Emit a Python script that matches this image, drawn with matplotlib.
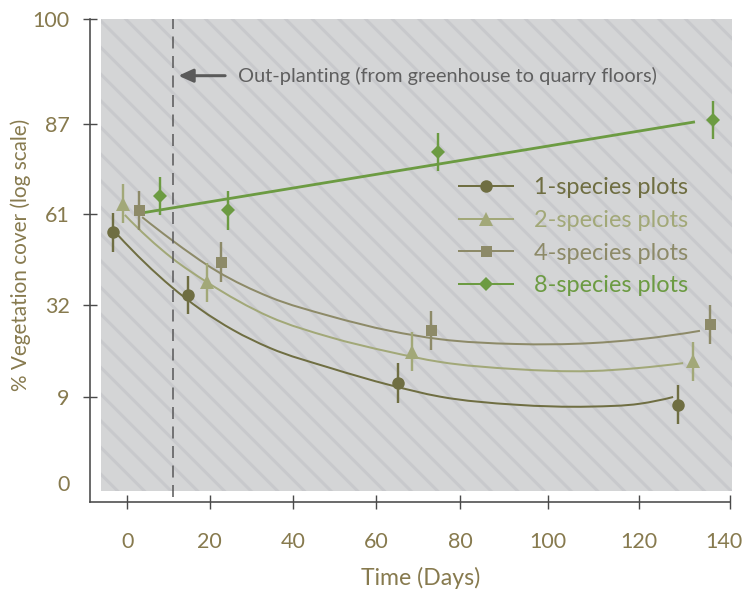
import numpy as np
import matplotlib
matplotlib.use("Agg")
import matplotlib.pyplot as plt
from matplotlib.patches import Rectangle, PathPatch
from matplotlib.path import Path
from matplotlib.lines import Line2D
from matplotlib.transforms import ScaledTranslation

DPI = 80
PT = 72 / DPI  # points per pixel

plt.rcParams['font.family'] = ['Lato', 'DejaVu Sans']
plt.rcParams['hatch.linewidth'] = 3.0 * PT
plt.rcParams['hatch.color'] = '#c7c8cb'

# ---------------- data ----------------
series_labels = ['1-species plots', '2-species plots', '4-species plots', '8-species plots']

days_1 = [-3.4, 14.8, 65.3, 128.5]
cover_1 = [55.3, 35.3, 12.6, 8.2]
low_1 = [49.1, 29.8, 8.4, 6.2]
high_1 = [61.5, 41.4, 17.5, 12.0]

days_2 = [-1.0, 19.3, 68.6, 131.9]
cover_2 = [64.0, 39.4, 20.4, 18.0]
low_2 = [58.1, 33.1, 15.5, 13.1]
high_2 = [69.7, 45.6, 25.2, 22.9]

days_4 = [2.9, 22.6, 73.1, 135.5]
cover_4 = [62.1, 45.8, 25.7, 27.2]
low_4 = [56.0, 39.5, 20.8, 22.3]
high_4 = [67.7, 52.1, 30.6, 32.1]

days_8 = [7.9, 24.4, 74.8, 136.2]
cover_8 = [66.3, 62.1, 79.0, 87.5]
low_8 = [60.8, 56.0, 73.5, 82.7]
high_8 = [71.9, 67.7, 84.5, 89.9]

# fitted trend curves
fit_days_1 = [-2.3, 10.8, 17.6, 25.6, 34.4, 48.9, 63.3, 75.2, 92.5, 109.2, 120.2, 127.5]
fit_cover_1 = [54.4, 37.8, 31.1, 25.8, 21.3, 16.3, 12.0, 9.1, 8.2, 8.0, 8.3, 9.0]
fit_days_2 = [-0.6, 10.8, 19.3, 34.4, 48.9, 63.3, 75.2, 92.5, 109.2, 120.2, 129.7]
fit_cover_2 = [60.8, 47.1, 39.4, 29.1, 24.0, 20.3, 17.8, 16.0, 15.5, 16.3, 17.5]
fit_days_4 = [3.6, 10.8, 21.7, 34.4, 48.9, 63.3, 75.2, 92.5, 109.2, 120.2, 133.4]
fit_cover_4 = [60.1, 52.8, 42.9, 34.6, 29.3, 25.6, 23.5, 22.3, 22.5, 23.5, 25.6]
fit_days_8 = [3.6, 132.3]
fit_cover_8 = [61.4, 87.3]

x_ticks = [0, 20, 40, 60, 80, 100, 120, 140]
y_ticks = [0, 9, 32, 61, 87, 100]
outplant_day = 11
annotation_text = 'Out-planting (from greenhouse to quarry floors)'

# ---------------- axis calibration (non-uniform axes of the original) ----------------
X_CAL_DAYS = np.array([-20, 0, 20, 40, 60, 80, 100, 120, 140, 160], float)
X_CAL_POS = np.array([-82.4, 0, 82.4, 166, 248.7, 332.7, 421, 511.7, 602.7, 693.7])
Y_CAL_VAL = np.array([-20, 0, 9, 32, 61, 87, 100, 120], float)
Y_CAL_POS = np.array([-191.8, 0, 86.3, 178, 269, 359, 464.3, 626.3])

def xf(v):
    return np.interp(np.asarray(v, float), X_CAL_DAYS, X_CAL_POS)

def xi(p):
    return np.interp(np.asarray(p, float), X_CAL_POS, X_CAL_DAYS)

def yf(v):
    return np.interp(np.asarray(v, float), Y_CAL_VAL, Y_CAL_POS)

def yi(p):
    return np.interp(np.asarray(p, float), Y_CAL_POS, Y_CAL_VAL)


def smooth_path(days, cover):
    """Smoothed line through the given points (cubic Hermite segments drawn as
    Bezier curves), built in the axis' scaled space and drawn through the axis
    transform."""
    x, y = xf(days), yf(cover)
    h = np.diff(x)
    d = np.diff(y) / h
    n = len(x)
    m = np.empty(n)
    m[1:-1] = (h[1:] * d[:-1] + h[:-1] * d[1:]) / (h[:-1] + h[1:])
    m[0] = ((2 * h[0] + h[1]) * d[0] - h[0] * d[1]) / (h[0] + h[1])
    m[-1] = ((2 * h[-1] + h[-2]) * d[-1] - h[-1] * d[-2]) / (h[-1] + h[-2])
    verts = [(x[0], y[0])]
    codes = [Path.MOVETO]
    for k in range(n - 1):
        t = h[k] / 3
        verts += [(x[k] + t, y[k] + m[k] * t),
                  (x[k + 1] - t, y[k + 1] - m[k + 1] * t),
                  (x[k + 1], y[k + 1])]
        codes += [Path.CURVE4] * 3
    verts = np.array(verts)
    return Path(np.column_stack([xi(verts[:, 0]), yi(verts[:, 1])]), codes)


# ---------------- styles ----------------
colors = ['#6f6e42', '#a2a878', '#8d8a68', '#6c9b42']
markers = ['o', '^', 's', 'D']
msizes = [12.5 * PT, 13.5 * PT, 11 * PT, 10.6 * PT]
label_color = '#877a4e'
axis_color = '#4a4a4a'

W, H = 745, 594
fig = plt.figure(figsize=(W / DPI, H / DPI), dpi=DPI)
ax = fig.add_axes([90.3 / W, (H - 502.3) / H, 639.7 / W, 483.3 / H])
ax.set_xscale('function', functions=(xf, xi))
ax.set_yscale('function', functions=(yf, yi))
ax.set_xlim(float(xi(-37.0)), 140)
ax.set_ylim(float(yi(-19.0)), 100)
ax.set_autoscale_on(False)
ax.set_facecolor('none')

# hatched gray background panel
bg = Rectangle((10.7 / 639.7, 11.3 / 483.3), 631 / 639.7, 472 / 483.3,
               transform=ax.transAxes, facecolor='#d4d5d6', edgecolor='#c8c9cc',
               hatch='\\', linewidth=0, zorder=0.5, clip_on=False)
ax.add_patch(bg)

all_days = [days_1, days_2, days_4, days_8]
all_cover = [cover_1, cover_2, cover_4, cover_8]
all_low = [low_1, low_2, low_4, low_8]
all_high = [high_1, high_2, high_4, high_8]
all_fit_d = [fit_days_1, fit_days_2, fit_days_4]
all_fit_c = [fit_cover_1, fit_cover_2, fit_cover_4]

for i in range(3):
    ax.add_patch(PathPatch(smooth_path(all_fit_d[i], all_fit_c[i]), fill=False,
                           edgecolor=colors[i], lw=2.0 * PT, zorder=2,
                           capstyle='butt'))
ax.plot(fit_days_8, fit_cover_8, color=colors[3], lw=2.8 * PT, zorder=2,
        solid_capstyle='butt')

for i in range(4):
    c = np.array(all_cover[i])
    lo = c - np.array(all_low[i])
    hi = np.array(all_high[i]) - c
    ax.errorbar(all_days[i], c, yerr=[lo, hi], fmt=markers[i], color=colors[i],
                ms=msizes[i], mew=0, elinewidth=2.4 * PT, capsize=7 * PT,
                capthick=2.4 * PT, zorder=3)

# out-planting marker
ax.axvline(outplant_day, ymin=5.3 / 483.3, ymax=1.0, color='#555555',
           lw=1.5 * PT, dashes=(8, 5), zorder=2.5)
ax.annotate('', xy=(12.4, 93.0), xytext=(23.7, 93.0),
            arrowprops=dict(arrowstyle='-|>,head_length=0.55,head_width=0.25',
                            color='#5a5a5a', lw=3 * PT, shrinkA=0, shrinkB=0,
                            mutation_scale=20))
ax.text(26.8, 93.0, annotation_text, ha='left', va='center',
        fontsize=20 * PT, color='#5f5f5f', zorder=4)

# axes styling
for s in ['top', 'right']:
    ax.spines[s].set_visible(False)
for s in ['left', 'bottom']:
    ax.spines[s].set_color(axis_color)
    ax.spines[s].set_linewidth(1.6 * PT)

ax.set_xticks(x_ticks)
ax.set_xticklabels([str(t) for t in x_ticks])
ax.set_yticks(y_ticks)
ax.set_yticklabels([str(t) for t in y_ticks])
ax.minorticks_off()
ax.tick_params(axis='both', direction='inout', length=13 * PT, width=1.4 * PT,
               color=axis_color, labelcolor=label_color, labelsize=21.5 * PT)
ax.tick_params(axis='x', pad=23 * PT)
ax.tick_params(axis='y', pad=14 * PT)
ax.yaxis.get_major_ticks()[0].tick1line.set_visible(False)
last = ax.get_xticklabels()[-1]
last.set_transform(last.get_transform() + ScaledTranslation(-6 / DPI, 0, fig.dpi_scale_trans))

ax.set_xlabel('Time (Days)', fontsize=23 * PT, color=label_color)
ax.xaxis.set_label_coords(0.517, -0.133)
ax.set_ylabel('% Vegetation cover (log scale)', fontsize=20.7 * PT, color=label_color)
ax.yaxis.set_label_coords(-0.092, 0.512)

handles = [Line2D([], [], color=colors[i], marker=markers[i], ms=msizes[i], mew=0,
                  lw=2.0 * PT) for i in range(4)]
ax.legend(handles, series_labels, loc='upper left',
          bbox_to_anchor=((459 - 90.3) / 639.7, (502.3 - 177) / 483.3),
          frameon=False, fontsize=23.5 * PT, labelcolor='linecolor',
          handlelength=2.3, handletextpad=0.9, borderpad=0, borderaxespad=0,
          labelspacing=0.5)

fig.savefig('out.png', dpi=DPI)
